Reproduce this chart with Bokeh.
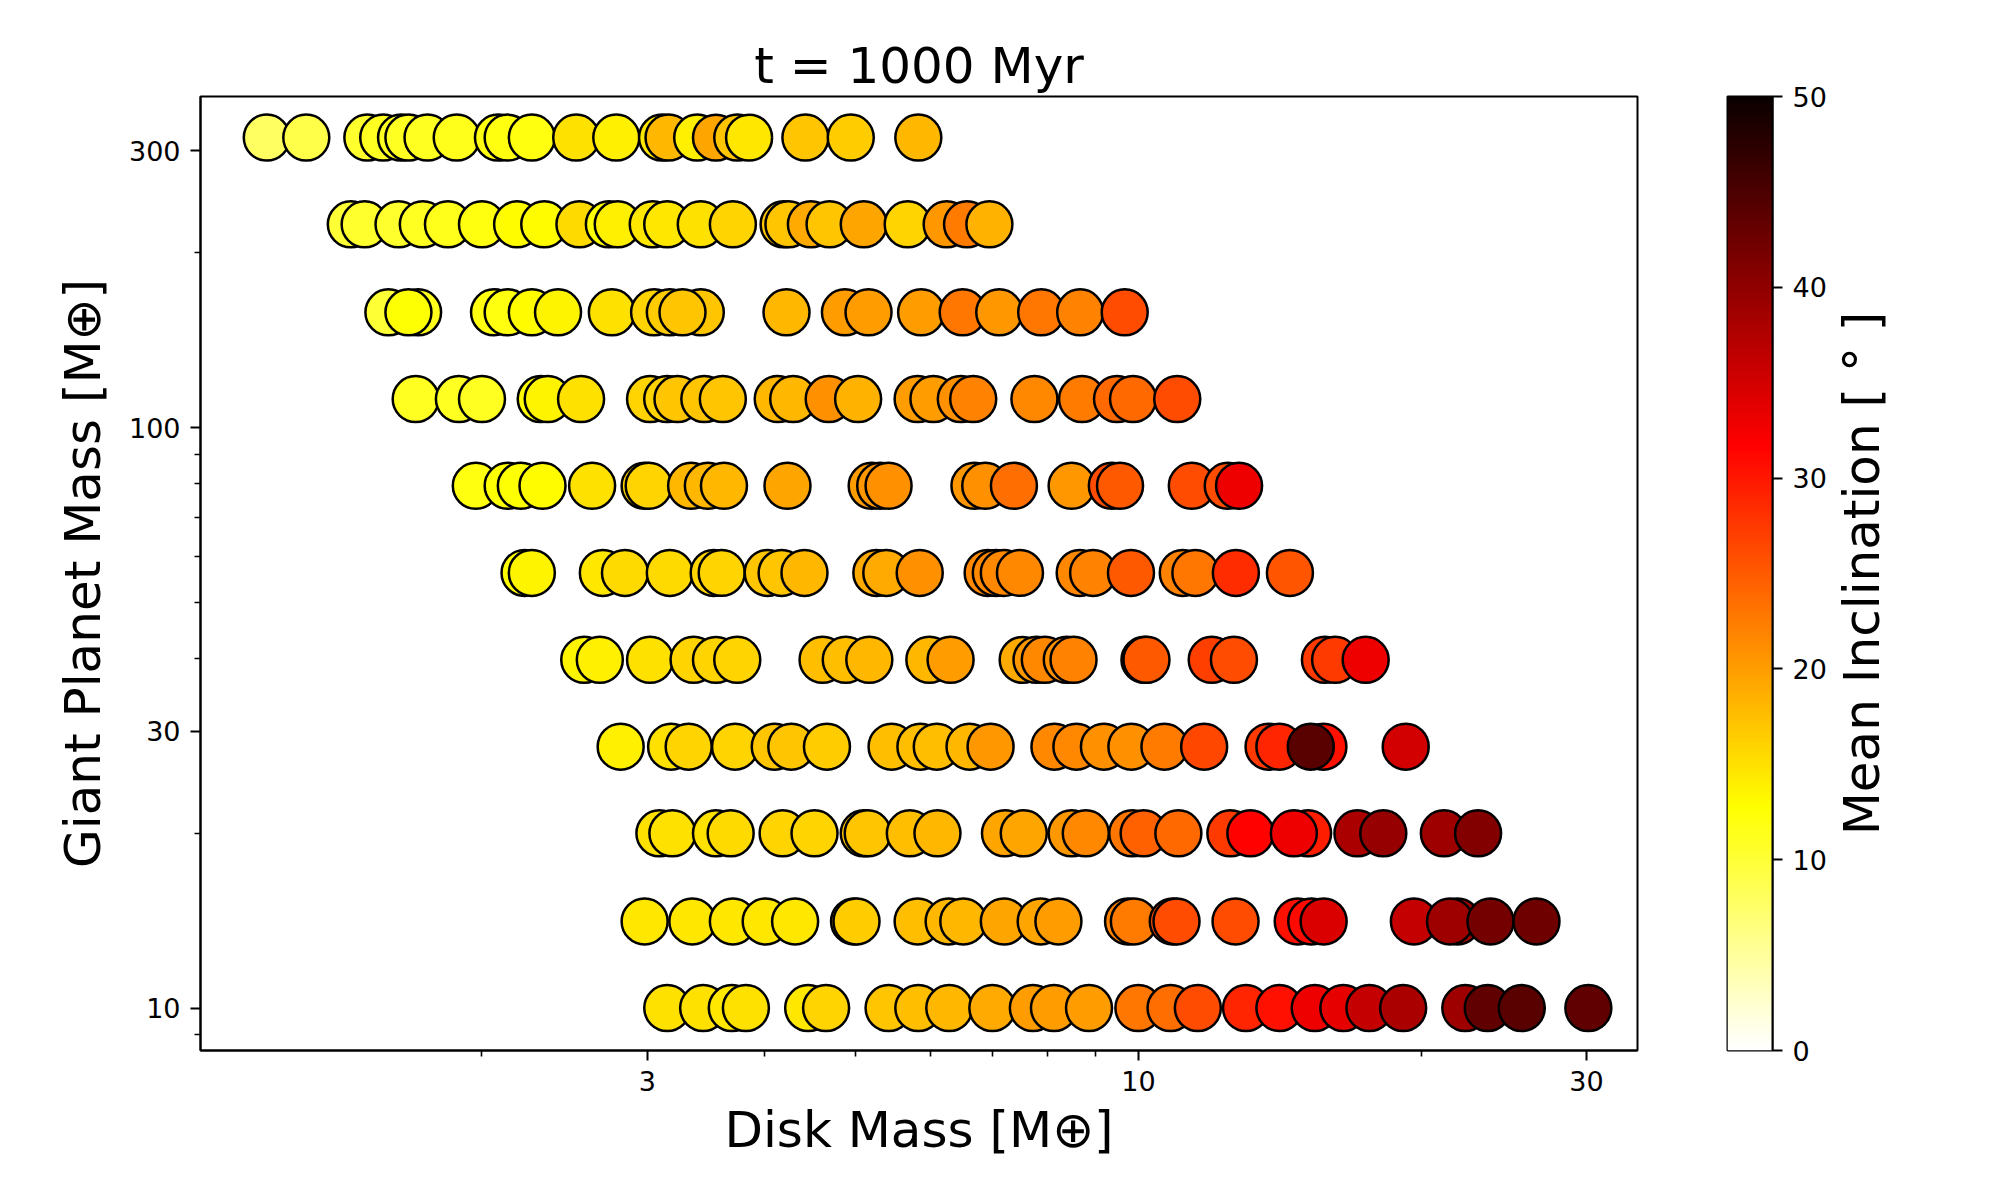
import numpy as np
from bokeh.plotting import figure
from bokeh.models import (ColumnDataSource, LinearColorMapper, FixedTicker,
                          PrintfTickFormatter, Range1d)
from bokeh.layouts import row
from bokeh.transform import transform
from bokeh.embed import file_html
from bokeh.resources import INLINE

# ---------------- data ----------------
planet_masses = [316, 224, 158, 112, 79.4, 56.2, 39.8, 28.2, 20.0, 14.1, 10.0]

disk_316 = [1.18, 1.30, 1.51, 1.57, 1.64, 1.67, 1.75, 1.88, 2.08, 2.13, 2.26, 2.52, 2.78,
            3.11, 3.16, 3.39, 3.55, 3.74, 3.85, 4.42, 4.94, 5.83]
incl_316 = [8, 9, 10.5, 11, 11, 11, 11, 11.5, 12, 12, 12, 15, 14,
            14.5, 18, 14, 19.5, 17, 14.5, 17, 16.5, 18]

disk_224 = [1.45, 1.50, 1.63, 1.73, 1.84, 2.00, 2.18, 2.33, 2.54, 2.73, 2.79, 3.04, 3.15,
            3.42, 3.70, 4.19, 4.24, 4.48, 4.69, 5.10, 5.68, 6.25, 6.57, 6.94]
incl_224 = [10, 10.5, 10.5, 11, 11.5, 12, 13, 13, 15.5, 12.5, 14, 14.5, 14.5,
            15, 16, 17, 17, 19, 17, 19.5, 16, 20.5, 22.5, 18.5]

disk_158 = [1.59, 1.71, 1.67, 2.06, 2.13, 2.26, 2.41, 2.75, 3.05, 3.17, 3.42, 3.27,
            4.22, 4.87, 5.16, 5.87, 6.50, 7.11, 7.88, 8.67, 9.67]
incl_158 = [10, 11.5, 12.5, 12, 12, 13, 13.5, 15, 16, 16.5, 17, 17,
            18, 20, 20, 20, 23, 20.5, 23, 22, 26]

disk_112 = [1.70, 1.89, 2.00, 2.31, 2.35, 2.55, 3.02, 3.15, 3.23, 3.45, 3.61, 4.13, 4.29,
            4.68, 5.03, 5.82, 6.05, 6.47, 6.67, 7.75, 8.71, 9.49, 9.87, 11.0]
incl_112 = [11, 11, 11, 13, 13.5, 15, 16, 16, 17, 17, 17, 18, 18,
            21, 18.5, 20, 20, 21, 22, 21.5, 22.5, 24, 24, 26]

disk_79 = [1.97, 2.13, 2.20, 2.32, 2.62, 2.98, 3.01, 3.34, 3.48, 3.62, 4.23, 5.20, 5.31,
           5.42, 6.69, 6.87, 7.37, 8.49, 9.37, 9.56, 11.4, 12.45, 12.8]
incl_79 = [12, 12.5, 12.5, 13, 15, 16, 16, 18, 18, 18, 19.5, 20, 20.5,
           21, 20.5, 21, 23.5, 20.5, 26, 25, 26, 26, 33]

disk_56 = [2.22, 2.26, 2.69, 2.84, 3.17, 3.53, 3.60, 4.03, 4.17, 4.41, 5.26, 5.39, 5.85,
           6.91, 7.05, 7.19, 7.48, 8.66, 8.95, 9.82, 11.15, 11.5, 12.7, 14.5]
incl_56 = [13, 13.5, 14.5, 15.5, 15.5, 16, 16, 17, 17, 18, 19, 19, 21,
           21.5, 21.5, 21.5, 21.5, 21.5, 22, 25, 22, 23, 28.5, 25.5]

disk_40 = [2.57, 2.67, 3.02, 3.36, 3.55, 3.74, 4.61, 4.88, 5.17, 5.99, 6.31, 7.53, 7.79,
           7.95, 8.39, 8.53, 10.15, 10.2, 11.97, 12.64, 15.8, 16.2, 17.46]
incl_40 = [13.5, 14, 15, 16, 16, 16, 17.5, 17.5, 18, 18, 20, 19, 20.5,
           21.5, 21, 22, 25, 25, 27, 26, 27.5, 27.5, 33]

disk_28 = [2.81, 3.18, 3.32, 3.72, 4.10, 4.27, 4.66, 5.46, 5.86, 6.10, 6.61, 6.96, 8.14,
           8.59, 9.19, 9.83, 10.66, 11.75, 13.76, 14.13, 15.74, 15.26, 19.26]
incl_28 = [14, 15, 16, 16, 17, 17, 16.5, 17.5, 17.5, 17.5, 18, 20.5, 21.5,
           21.5, 21, 21, 22.5, 26.5, 27.5, 29, 30.5, 44, 35]

disk_20 = [3.09, 3.19, 3.55, 3.68, 4.18, 4.52, 5.10, 5.15, 5.71, 6.11, 7.21, 7.55, 8.49,
           8.79, 9.85, 10.13, 11.03, 12.53, 13.16, 15.16, 14.64, 17.11, 18.23, 21.15, 23.0]
incl_20 = [15, 15, 15, 15.5, 16, 16, 17, 17, 17.5, 18, 19.5, 19.5, 20.5,
           21.5, 23, 24.5, 24, 27.5, 31.5, 29.5, 33, 38, 39.5, 39, 41]

disk_14 = [2.98, 3.35, 3.70, 4.01, 4.31, 4.98, 5.01, 5.82, 6.28, 6.51, 7.19, 7.87, 8.22,
           9.75, 9.89, 10.88, 10.98, 12.69, 14.78, 15.28, 15.75, 19.65, 21.87, 21.47, 23.71, 26.54]
incl_14 = [14.5, 14.5, 14.5, 14.5, 14.5, 16.5, 16.5, 17.5, 18, 18, 19.5, 19.5, 20,
           22, 22.5, 26, 26, 26, 30.5, 31, 34.5, 36, 39, 39, 42, 42.5]

disk_10 = [3.15, 3.44, 3.69, 3.82, 4.45, 4.65, 5.42, 5.83, 6.29, 6.99, 7.72, 8.13, 8.86,
           10.0, 10.82, 11.57, 13.02, 14.13, 15.41, 16.53, 17.62, 19.14, 22.29, 23.55, 25.60, 30.14]
incl_10 = [15, 15, 14.5, 15, 14.5, 16, 17, 17.5, 18, 19, 20, 20, 20,
           23, 23.5, 26, 29, 30.5, 33, 33.5, 36, 38, 39, 43.5, 44, 43.5]

disk_rows = [disk_316, disk_224, disk_158, disk_112, disk_79, disk_56,
             disk_40, disk_28, disk_20, disk_14, disk_10]
incl_rows = [incl_316, incl_224, incl_158, incl_112, incl_79, incl_56,
             incl_40, incl_28, incl_20, incl_14, incl_10]

x_ticks = [3, 10, 30]
x_minor = [2, 4, 5, 6, 7, 8, 9, 20]
y_ticks = [10, 30, 100, 300]
y_minor = [9, 20, 40, 50, 60, 70, 80, 90, 200]
cbar_ticks = [0, 10, 20, 30, 40, 50]

# ---------------- colormap (matplotlib "hot_r") ----------------
tt = np.linspace(0, 1, 256)
rr = np.interp(tt, [0, 0.365079, 1], [0.0416, 1, 1])
gg = np.interp(tt, [0, 0.365079, 0.746032, 1], [0, 0, 1, 1])
bb = np.interp(tt, [0, 0.746032, 1], [0, 0, 1])
hot = ["#%02x%02x%02x" % (int(round(a * 255)), int(round(b_ * 255)), int(round(c * 255)))
       for a, b_, c in zip(rr, gg, bb)]
hot_r = hot[::-1]
mapper = LinearColorMapper(palette=hot_r, low=0, high=50)

xs, ys, cs = [], [], []
for m, dr, ir in zip(planet_masses, disk_rows, incl_rows):
    for d, i in zip(dr, ir):
        xs.append(d)
        ys.append(m)
        cs.append(i)
src = ColumnDataSource(dict(disk=xs, planet=ys, incl=cs))

FONT = "DejaVu Sans"
TOP = 96
BOTTOM = 130
H = 1180

# ---------------- main figure ----------------
p = figure(width=1657, height=H, x_axis_type="log", y_axis_type="log",
           x_range=Range1d(1.003, 34.0), y_range=Range1d(8.45, 372),
           output_backend="svg", toolbar_location=None,
           min_border_left=200, min_border_right=20, min_border_top=TOP, min_border_bottom=BOTTOM,
           title="t = 1000 Myr")
p.title.text_font = FONT
p.title.text_font_size = "50px"
p.title.text_font_style = "normal"
p.title.text_color = "black"
p.title.align = "center"
p.title.standoff = 4
p.grid.visible = False
p.outline_line_color = "black"
p.outline_line_width = 2
p.background_fill_color = "white"

p.scatter(x="disk", y="planet", source=src, size=46,
          fill_color=transform("incl", mapper), line_color="black", line_width=2.5)

p.xaxis.ticker = FixedTicker(ticks=x_ticks, minor_ticks=x_minor)
p.yaxis.ticker = FixedTicker(ticks=y_ticks, minor_ticks=y_minor)
for ax in (p.xaxis[0], p.yaxis[0]):
    ax.formatter = PrintfTickFormatter(format="%d")
    ax.major_label_text_font = FONT
    ax.major_label_text_font_size = "27px"
    ax.major_label_text_color = "black"
    ax.axis_label_text_font = FONT
    ax.axis_label_text_font_size = "50px"
    ax.axis_label_text_font_style = "normal"
    ax.axis_label_text_color = "black"
    ax.axis_line_color = "black"
    ax.axis_line_width = 2
    ax.major_tick_in = 0
    ax.major_tick_out = 10
    ax.major_tick_line_width = 2
    ax.minor_tick_in = 0
    ax.minor_tick_out = 6
    ax.minor_tick_line_width = 1.6
    ax.major_label_standoff = 10
p.xaxis.axis_label = "Disk Mass [M⊕]"
p.yaxis.axis_label = "Giant Planet Mass [M⊕]"
p.xaxis.axis_label_standoff = 7
p.yaxis.axis_label_standoff = 14

# ---------------- colorbar figure ----------------
p2 = figure(width=172, height=H, x_range=Range1d(0, 1), y_range=Range1d(0, 50),
            output_backend="svg", toolbar_location=None,
            x_axis_location=None, y_axis_location="right",
            min_border_left=70, min_border_right=55, min_border_top=TOP, min_border_bottom=BOTTOM)
p2.grid.visible = False
p2.outline_line_color = "black"
p2.outline_line_width = 2
grad = np.linspace(0, 50, 256).reshape(256, 1)
p2.image(image=[grad], x=0, y=0, dw=1, dh=50, color_mapper=mapper)
ay = p2.yaxis[0]
ay.ticker = FixedTicker(ticks=cbar_ticks, minor_ticks=[])
ay.formatter = PrintfTickFormatter(format="%d")
ay.major_label_text_font = FONT
ay.major_label_text_font_size = "27px"
ay.major_label_text_color = "black"
ay.axis_line_color = "black"
ay.axis_line_width = 2
ay.major_tick_in = 0
ay.major_tick_out = 10
ay.major_tick_line_width = 2
ay.minor_tick_line_color = None
ay.major_label_standoff = 10

# ---------------- colorbar label (third, axis-only figure) ----------------
p3 = figure(width=120, height=H, x_range=Range1d(0, 1), y_range=Range1d(0, 50),
            output_backend="svg", toolbar_location=None,
            x_axis_location=None, y_axis_location="left",
            min_border_left=0, min_border_right=0, min_border_top=TOP, min_border_bottom=BOTTOM)
p3.grid.visible = False
p3.outline_line_color = None
a3 = p3.yaxis[0]
a3.ticker = FixedTicker(ticks=[], minor_ticks=[])
a3.axis_line_color = None
a3.major_tick_line_color = None
a3.minor_tick_line_color = None
a3.major_tick_out = 0
a3.major_tick_in = 0
a3.major_label_standoff = 0
a3.axis_label = "Mean Inclination [ ° ]"
a3.axis_label_text_font = FONT
a3.axis_label_text_font_size = "50px"
a3.axis_label_text_font_style = "normal"
a3.axis_label_text_color = "black"
a3.axis_label_standoff = 0

layout = row(p, p2, p3, spacing=0)
open("out.html", "w").write(file_html(layout, INLINE))
